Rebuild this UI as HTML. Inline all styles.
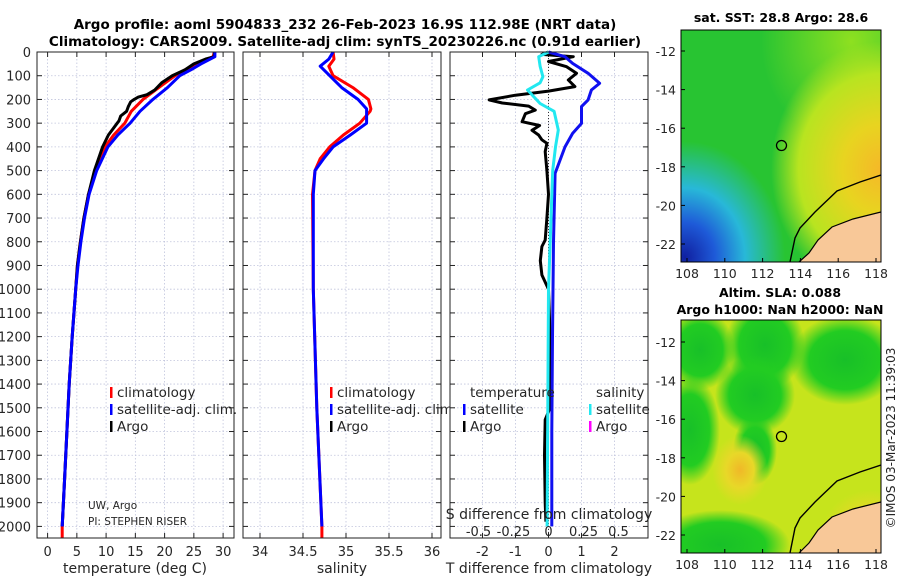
<!DOCTYPE html>
<html><head><meta charset="utf-8"><style>
html,body{margin:0;padding:0;background:#fff;width:900px;height:580px;overflow:hidden}
svg{display:block;font-family:"DejaVu Sans","Liberation Sans",sans-serif}
</style></head><body>
<svg id="fig" width="900" height="580" xmlns="http://www.w3.org/2000/svg">
<defs>
<radialGradient id="gBlue" cx="0.02" cy="0.98" r="0.5"><stop offset="0" stop-color="#1020a0"/><stop offset="0.3" stop-color="#1e5ad8"/><stop offset="0.6" stop-color="#28b8d8"/><stop offset="1" stop-color="#28b8d8" stop-opacity="0"/></radialGradient>
<radialGradient id="gYel" cx="1" cy="0.6" r="0.55"><stop offset="0" stop-color="#f5b828"/><stop offset="0.35" stop-color="#e8d420"/><stop offset="0.75" stop-color="#b8e420"/><stop offset="1" stop-color="#b8e420" stop-opacity="0"/></radialGradient>
<radialGradient id="gYel2" cx="0.85" cy="0.05" r="0.45"><stop offset="0" stop-color="#8ee020"/><stop offset="1" stop-color="#8ee020" stop-opacity="0"/></radialGradient>
<radialGradient id="gOr" cx="0.5" cy="0.5" r="0.5"><stop offset="0" stop-color="#f0b828"/><stop offset="0.5" stop-color="#e8d828"/><stop offset="1" stop-color="#e8d828" stop-opacity="0"/></radialGradient>
<radialGradient id="gGr" cx="0.5" cy="0.5" r="0.5"><stop offset="0" stop-color="#18c028"/><stop offset="0.65" stop-color="#22cc22"/><stop offset="1" stop-color="#22cc22" stop-opacity="0"/></radialGradient>
<clipPath id="c1"><rect x="681" y="30" width="200" height="232"/></clipPath>
<clipPath id="c2"><rect x="681" y="320" width="200" height="233"/></clipPath>
</defs>
<text x="345" y="29" text-anchor="middle" font-size="13.5" font-weight="bold">Argo profile: aoml 5904833_232 26-Feb-2023 16.9S 112.98E (NRT data)</text>
<text x="345" y="46" text-anchor="middle" font-size="13.5" font-weight="bold">Climatology: CARS2009. Satellite-adj clim: synTS_20230226.nc (0.91d earlier)</text>
<g id="panels"></g>
<g>
<text x="781" y="22" text-anchor="middle" font-size="12.5" font-weight="bold">sat. SST: 28.8 Argo: 28.6</text>
<g clip-path="url(#c1)">
<rect x="681" y="30" width="200" height="232" fill="#28c432"/>
<rect x="681" y="30" width="200" height="232" fill="url(#gYel2)"/>
<rect x="681" y="30" width="200" height="232" fill="url(#gYel)"/>
<rect x="681" y="30" width="200" height="232" fill="url(#gBlue)"/>
<path d="M881,212 L853,219 L832,227 L818,240 L809,253 L799,262 L881,262 Z" fill="#f8c898"/>
<path d="M881,175 L860,182 L837,191 L815,212 L800,228 L795,238 L790,262" fill="none" stroke="#000" stroke-width="1.4"/>
<path d="M881,212 L853,219 L832,227 L818,240 L809,253 L799,262" fill="none" stroke="#000" stroke-width="1.2"/>
</g>
<rect x="681" y="30" width="200" height="232" fill="none" stroke="#000" stroke-width="1"/>
<circle cx="781.5" cy="145.5" r="5" fill="none" stroke="#000" stroke-width="1.3"/>
</g>
<g>
<text x="780" y="297" text-anchor="middle" font-size="12.5" font-weight="bold">Altim. SLA: 0.088</text>
<text x="780" y="314" text-anchor="middle" font-size="12.5" font-weight="bold">Argo h1000: NaN h2000: NaN</text>
<g clip-path="url(#c2)">
<rect x="681" y="320" width="200" height="233" fill="#c6e41c"/>
<ellipse cx="700" cy="350" rx="35" ry="40" fill="url(#gGr)"/>
<ellipse cx="765" cy="345" rx="40" ry="45" fill="url(#gGr)"/>
<ellipse cx="845" cy="360" rx="55" ry="45" fill="url(#gGr)"/>
<ellipse cx="755" cy="395" rx="40" ry="40" fill="url(#gGr)"/>
<ellipse cx="690" cy="430" rx="30" ry="55" fill="url(#gGr)"/>
<ellipse cx="755" cy="450" rx="22" ry="35" fill="url(#gGr)"/>
<ellipse cx="720" cy="545" rx="70" ry="35" fill="url(#gGr)"/>
<ellipse cx="740" cy="470" rx="28" ry="35" fill="url(#gOr)"/>
<ellipse cx="870" cy="540" rx="50" ry="50" fill="url(#gOr)"/>
<path d="M881,502 L853,509 L832,517 L818,530 L809,543 L799,553 L881,553 Z" fill="#f8c898"/>
<path d="M881,465 L860,472 L837,481 L815,502 L800,518 L795,528 L790,553" fill="none" stroke="#000" stroke-width="1.4"/>
<path d="M881,502 L853,509 L832,517 L818,530 L809,543 L799,553" fill="none" stroke="#000" stroke-width="1.2"/>
</g>
<rect x="681" y="320" width="200" height="233" fill="none" stroke="#000" stroke-width="1"/>
<circle cx="781.5" cy="436.5" r="5" fill="none" stroke="#000" stroke-width="1.3"/>
</g>
<g id="maps"></g>
<text transform="translate(895,438) rotate(-90)" text-anchor="middle" font-size="12" fill="#222">©IMOS 03-Mar-2023 11:39:03</text>
</svg>
<script>
// ---- data ----
const depths = [0,20,50,75,100,150,200,250,300,350,400,500,600,700,800,900,1000,1200,1400,1600,1800,2000];
const tempClim = [28.5,28.3,25.3,23.5,21.8,19.0,16.3,14.3,13.2,11.3,9.8,8.2,7.0,6.2,5.6,5.1,4.8,4.2,3.7,3.3,2.9,2.5];
const tempSat  = [28.6,28.6,26.2,24.5,22.6,20.5,18.0,15.8,14.1,12.0,10.3,8.4,7.1,6.3,5.7,5.2,4.8,4.2,3.7,3.3,2.9,2.5];
const argoDepths = [0,20,30,50,75,100,130,160,180,190,200,210,230,250,270,290,300,350,400,500,600,700,800,900,1000,1200,1400,1600,1800,2000];
const tempArgo   = [28.5,28.5,27,25,23.5,21.3,19.5,18.3,17,15.5,14.8,14.2,13.8,13.5,12.5,12.2,11.9,10.4,9.4,8.0,7.0,6.2,5.6,5.1,4.8,4.2,3.7,3.3,2.9,2.5];
const salDepths = [0,30,60,100,150,200,240,250,300,350,400,450,500,600,1000,1500,2000,2050];
const salClim = [34.85,34.86,34.80,34.85,35.08,35.26,35.29,35.28,35.16,34.97,34.81,34.70,34.64,34.61,34.62,34.66,34.72,34.72];
const salSat  = [34.85,34.80,34.70,34.81,34.95,35.14,35.24,35.24,35.24,35.05,34.85,34.74,34.64,34.62,34.62,34.66,34.72,34.72];
const dT_depths = [0,20,48,90,132,160,202,230,301,343,400,512,800,1200,1600,2000];
const dTsat = [0,0.5,0.73,1.2,1.55,1.3,1.2,1.0,1.0,0.73,0.5,0.2,0.15,0.12,0.1,0.1];
const dA_depths = [0,10,20,40,62,90,118,146,165,182,202,215,228,245,260,294,310,330,350,370,385,420,500,600,700,793,820,880,940,1000,1200,1500,1550,1700,1900,1980];
const dTargo = [0,-0.2,0.75,0,0.55,0.85,0.6,0.8,0,-1.0,-1.8,-1.4,-0.6,-0.4,-0.7,-0.8,-0.27,-0.5,-0.3,-0.2,-0.05,-0.1,-0.05,0,-0.05,-0.1,-0.2,-0.25,-0.2,0,0.05,0.05,-0.1,-0.12,-0.1,-0.08];
const dS_depths = [0,20,60,104,130,160,217,250,329,400,500,1000,2000];
const dSsat = [0,-0.07,-0.06,-0.04,-0.06,-0.15,-0.06,0.04,0.07,0.05,0.03,0.0,-0.01];
const depthTicks = [0,100,200,300,400,500,600,700,800,900,1000,1100,1200,1300,1400,1500,1600,1700,1800,1900,2000];
const tTicks = [0,5,10,15,20,25,30];
const sTicks = [34,34.5,35,35.5,36];
const sTickLabels = ["34","34.5","35","35.5","36"];
const dTTicks = [-2,-1,0,1,2];
const dSTicks = [-0.5,-0.25,0,0.25,0.5];
const dSTickLabels = ["-0.5","-0.25","0","0.25","0.5"];
const latTicks = [-12,-14,-16,-18,-20,-22];
const lonTicks = [108,110,112,114,116,118];

// ---- axes ----
const NS = "http://www.w3.org/2000/svg";
const TOP = 52, BOT = 538;
const yD = d => TOP + d*0.2372;
const xT = t => 47.6 + t*5.85;
const xS = s => 260 + (s-34)*86;
const xDT = d => 548.5 + d*33;
const xDS = s => 548.5 + s*140;
const G = document.getElementById('panels');
function mk(tag, attrs, parent){const e=document.createElementNS(NS,tag);for(const k in attrs)e.setAttribute(k,attrs[k]);(parent||G).appendChild(e);return e;}
function txt(x,y,s,anchor,size,parent){const e=mk('text',{x:x,y:y,'text-anchor':anchor||'middle','font-size':size||13,fill:'#262626'},parent);e.textContent=s;return e;}

const panels = [
 {name:'temperature-panel', x0:37, x1:234, xf:xT, ticks:tTicks, labels:tTicks.map(String), xlabel:'temperature (deg C)', lx:135},
 {name:'salinity-panel', x0:243, x1:441, xf:xS, ticks:sTicks, labels:sTickLabels, xlabel:'salinity', lx:342},
 {name:'difference-panel', x0:450, x1:648, xf:xDT, ticks:dTTicks, labels:dTTicks.map(String), xlabel:'T difference from climatology', lx:549}
];
panels.forEach(p=>{
  const g = mk('g',{});
  
  
  mk('rect',{x:p.x0,y:TOP,width:p.x1-p.x0,height:BOT-TOP,fill:'#fff'},g);
  depthTicks.forEach(d=>{
    mk('line',{x1:p.x0,x2:p.x1,y1:yD(d),y2:yD(d),stroke:'#c0c4dc','stroke-width':0.8,'stroke-dasharray':'1.5,2'},g);
    mk('line',{x1:p.x0,x2:p.x0+5,y1:yD(d),y2:yD(d),stroke:'#222'},g);
    mk('line',{x1:p.x1-5,x2:p.x1,y1:yD(d),y2:yD(d),stroke:'#222'},g);
  });
  p.ticks.forEach((t,i)=>{
    const x=p.xf(t);
    mk('line',{x1:x,x2:x,y1:TOP,y2:BOT,stroke:'#c0c4dc','stroke-width':0.8,'stroke-dasharray':'1.5,2'},g);
    mk('line',{x1:x,x2:x,y1:BOT-5,y2:BOT,stroke:'#222'},g);
    mk('line',{x1:x,x2:x,y1:TOP,y2:TOP+5,stroke:'#222'},g);
    const l=txt(x,556,p.labels[i],'middle',13,g);
    
    
  });
  const xl=txt(p.lx,573,p.xlabel,'middle',14,g);
  
  
  p.g=g;
});
depthTicks.forEach(d=>{
  const l=txt(31,yD(d)+5,String(d),'end',13);
  
  
});

function line(xs, ds, fx, color, w, name, parent){
  const pts = xs.map((v,i)=>fx(v).toFixed(1)+','+yD(ds[i]).toFixed(1)).join(' ');
  const e = mk('polyline',{points:pts,fill:'none',stroke:color,'stroke-width':w,'stroke-linejoin':'round'},parent);
  
  
  return e;
}
line(tempClim.concat([2.5]), depths.concat([2050]), xT, '#ff0000', 3, 'temp-climatology-line', panels[0].g);
line(tempArgo, argoDepths, xT, '#000', 3, 'temp-argo-line', panels[0].g);
line(tempSat, depths, xT, '#0000ff', 3, 'temp-satellite-line', panels[0].g);
line(salClim, salDepths, xS, '#ff0000', 3, 'sal-climatology-line', panels[1].g);
line(salSat.slice(0,-1), salDepths.slice(0,-1), xS, '#0000ff', 3, 'sal-satellite-line', panels[1].g);
mk('line',{x1:xDT(0),x2:xDT(0),y1:TOP,y2:BOT,stroke:'#333','stroke-dasharray':'1,2'},panels[2].g);
line(dTargo, dA_depths, xDT, '#000', 3, 'dT-argo-line', panels[2].g);
line(dTsat, dT_depths, xDT, '#1010f0', 3, 'dT-satellite-line', panels[2].g);
line(dSsat, dS_depths, xDS, '#22e8f0', 3, 'dS-satellite-line', panels[2].g);

panels.forEach(p=>mk('rect',{x:p.x0,y:TOP,width:p.x1-p.x0,height:BOT-TOP,fill:'none',stroke:'#222','stroke-width':1},p.g));

const st=txt(549,519,'S difference from climatology','middle',14,panels[2].g);


dSTicks.forEach((s,i)=>{
  const l=txt(xDS(s),536,dSTickLabels[i],'middle',13,panels[2].g);
  
  
});

function legend(x,y,color,label,parent){
  const g=mk('g',{},parent);
  
  
  if(color) mk('rect',{x:x,y:y-10,width:2.5,height:11,fill:color},g);
  txt(x+7,y,label,'start',13.5,g);
}
legend(110,397,'#ff0000','climatology',panels[0].g);
legend(110,414,'#0000ff','satellite-adj. clim.',panels[0].g);
legend(110,431,'#000','Argo',panels[0].g);
legend(330,397,'#ff0000','climatology',panels[1].g);
legend(330,414,'#0000ff','satellite-adj. clim.',panels[1].g);
legend(330,431,'#000','Argo',panels[1].g);
legend(463,397,null,'temperature',panels[2].g);
legend(463,414,'#0000ff','satellite',panels[2].g);
legend(463,431,'#000','Argo',panels[2].g);
legend(589,397,null,'salinity',panels[2].g);
legend(589,414,'#22e8f0','satellite',panels[2].g);
legend(589,431,'#ff00ff','Argo',panels[2].g);
const c1=txt(88,509,'UW, Argo','start',10.5,panels[0].g);


const c2=txt(88,525,'PI: STEPHEN RISER','start',10.5,panels[0].g);



const M = document.getElementById('maps');
const lonX = lon => 687 + (lon-108)*18.9;
[[51,262,30],[342,553,320]].forEach(([y12,bot,top])=>{
  const latY = lat => y12 + (-12-lat)*19.3;
  latTicks.forEach(lat=>{
    const l=txt(676,latY(lat)+5,String(lat),'end',12.5,M);
    
    
    mk('line',{x1:681,x2:685,y1:latY(lat),y2:latY(lat),stroke:'#000'},M);
  });
  lonTicks.forEach(lon=>{
    const l=txt(lonX(lon),bot+16,String(lon),'middle',12.5,M);
    
    
    mk('line',{x1:lonX(lon),x2:lonX(lon),y1:bot-4,y2:bot,stroke:'#000'},M);
  });
});
</script>
</body></html>
